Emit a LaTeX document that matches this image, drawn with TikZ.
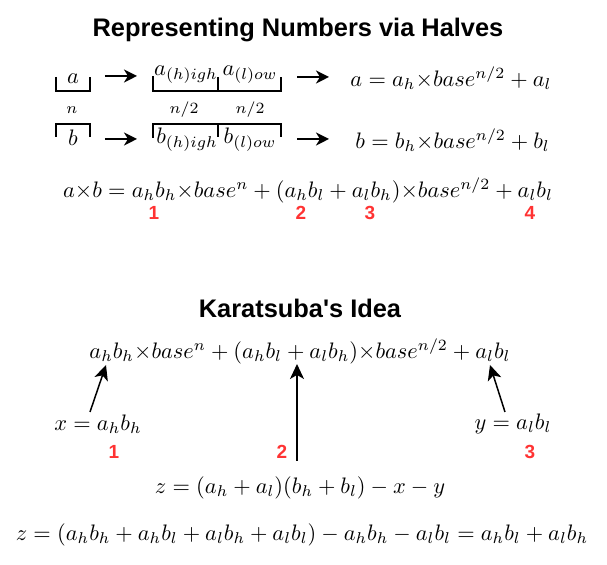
\documentclass[tikz,border=0pt]{standalone}
\usepackage{fontspec}
\newfontfamily\arial{Liberation Sans}
\usetikzlibrary{arrows.meta}
\definecolor{numred}{RGB}{255,51,51}
\tikzset{
  title/.style={font=\arial\bfseries\fontsize{12.7}{14}\selectfont},
  eq/.style={font=\normalsize, inner sep=0pt, scale=1.12, transform shape},
  small/.style={font=\scriptsize, inner sep=0pt, scale=1.12, transform shape},
  num/.style={font=\arial\bfseries\fontsize{9.5}{10}\selectfont, text=numred, inner sep=0pt},
  bracket/.style={line width=0.75pt},
  thickarrow/.style={-{Stealth[length=6.5pt,width=6.5pt,inset=2pt]}, line width=1.1pt},
  ptr/.style={-{Stealth[length=7.5pt,width=7pt,inset=2pt]}, line width=0.75pt},
}
\begin{document}
\begin{tikzpicture}[x=0.5pt,y=-0.5pt]
\useasboundingbox (0,0) rectangle (607,565);
% Titles
\node[title] (t1) at (298,30) {Representing Numbers via Halves};
\node[title] (t2) at (300,308) {Karatsuba's Idea};

% Row a
\node[eq] (a) at (73,79) {$a$};
\draw[bracket] (56,77) -- (56,91) -- (90,91) -- (90,77);
\node[eq] (ah) at (186,75) {$a_{(h)igh}$};
\node[eq] (al) at (250,75) {$a_{(l)ow}$};
\draw[bracket] (153,76) -- (153,91) -- (281,91) -- (281,77);
\draw[bracket] (218,77) -- (218,91);
\coordinate (a1s) at (105,76); \coordinate (a1e) at (137,76);
\draw[thickarrow] (a1s) -- (a1e);
\coordinate (a2s) at (297,77); \coordinate (a2e) at (329,77);
\draw[thickarrow] (a2s) -- (a2e);
\node[eq, anchor=west] (aeq) at (350,78) {$a = a_h{\times}base^{n/2} + a_l$};

% sizes
\node[small] (n) at (72,110) {$n$};
\node[small] (n1) at (184,110) {$n/2$};
\node[small] (n2) at (250,110) {$n/2$};

% Row b
\node[eq] (b) at (73,138) {$b$};
\draw[bracket] (56,137) -- (56,124) -- (90,124) -- (90,137);
\node[eq] (bh) at (187,140) {$b_{(h)igh}$};
\node[eq] (bl) at (250,140) {$b_{(l)ow}$};
\draw[bracket] (153,138) -- (153,124) -- (281,124) -- (281,137);
\draw[bracket] (218,124) -- (218,137);
\coordinate (b1s) at (105,139); \coordinate (b1e) at (137,139);
\draw[thickarrow] (b1s) -- (b1e);
\coordinate (b2s) at (297,139); \coordinate (b2e) at (329,139);
\draw[thickarrow] (b2s) -- (b2e);
\node[eq, anchor=west] (beq) at (355,140) {$b = b_h{\times}base^{n/2} + b_l$};

% product
\node[eq] (prod) at (308,190) {$a{\times}b = a_hb_h{\times}base^n + (a_hb_l + a_lb_h){\times}base^{n/2} + a_lb_l$};
\node[num] (p1) at (154,213) {1};
\node[num] (p2) at (301,213) {2};
\node[num] (p3) at (370,213) {3};
\node[num] (p4) at (530,213) {4};

% Karatsuba
\node[eq] (k) at (300,351) {$a_hb_h{\times}base^n + (a_hb_l + a_lb_h){\times}base^{n/2} + a_lb_l$};
\coordinate (k1) at (106,365);
\coordinate (k2) at (297,364);
\coordinate (k3) at (490,365);
\node[eq] (x) at (98,424) {$x = a_hb_h$};
\node[eq] (y) at (513,424) {$y = a_lb_l$};
\coordinate (xs) at (90,412);
\coordinate (ys) at (505,412);
\draw[ptr] (xs) -- (k1);
\draw[ptr] (ys) -- (k3);
\coordinate (zs) at (297,461);
\draw[ptr] (zs) -- (k2);
\node[num] (q1) at (114,452) {1};
\node[num] (q2) at (282,452) {2};
\node[num] (q3) at (530,452) {3};
\node[eq] (z1) at (300,488) {$z = (a_h + a_l)(b_h + b_l) - x - y$};
\node[eq] (z2) at (302,535) {$z = (a_hb_h + a_hb_l + a_lb_h + a_lb_l) - a_hb_h - a_lb_l = a_hb_l + a_lb_h$};
\end{tikzpicture}
\end{document}
